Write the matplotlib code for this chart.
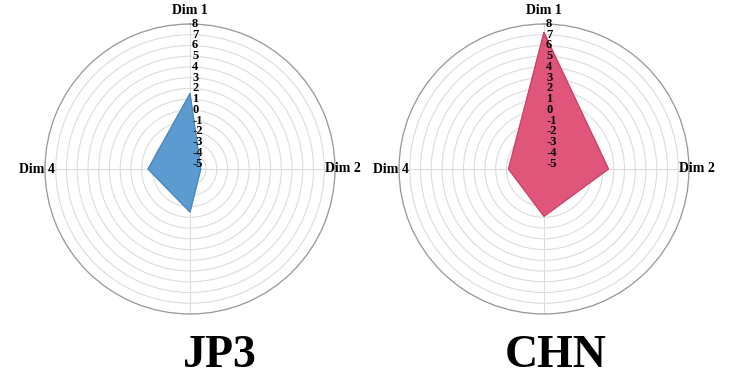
import numpy as np
import matplotlib
matplotlib.use("Agg")
import matplotlib.pyplot as plt

# --- data ---
dims = ["Dim 1", "Dim 2", "Dim 3", "Dim 4"]
shown_dims = ["Dim 1", "Dim 2", "", "Dim 4"]   # Dim 3 label is not visible in the picture
r_ticks = list(range(-5, 9))
jp3_values = [1.5, -4.5, -1.5, -1.6]
chn_values = [7.2, 0.5, -1.1, -2.2]
panel_titles = ["JP3", "CHN"]
panel_colors = ["#5b9bd0", "#e0557a"]
edge_colors = ["#4a86bb", "#c94466"]

serif = ["Liberation Serif", "DejaVu Serif"]
plt.rcParams["font.family"] = serif

fig = plt.figure(figsize=(7.3, 3.82), dpi=100)

W, H = 730, 382
r_min, r_max = -5.5, 8


def radar(ax, values, color, edge):
    theta = np.linspace(0, 2 * np.pi, len(dims), endpoint=False)
    ax.set_theta_offset(np.pi / 2)
    ax.set_theta_direction(-1)
    ax.set_ylim(r_min, r_max)

    # grid
    ax.set_yticks(r_ticks)
    ax.set_yticklabels([])
    ax.set_xticks(theta)
    ax.set_xticklabels([])
    ax.grid(True, color="#dcdcdc", linewidth=0.8)
    ax.spines["polar"].set_color("#999999")
    ax.spines["polar"].set_linewidth(0.9)
    ax.tick_params(length=0)

    closed_t = np.append(theta, theta[0])
    closed_v = np.append(values, values[0])
    ax.fill(closed_t, closed_v, color=color, alpha=1.0, zorder=3)
    ax.plot(closed_t, closed_v, color=edge, linewidth=0.8, zorder=3)

    # radial labels along the top spoke
    for v in r_ticks:
        ax.text(0, v, str(v), ha="left", va="center", fontsize=9,
                fontweight="bold", zorder=5,
                transform=ax.transData + matplotlib.transforms.ScaledTranslation(
                    1.5 / 72, 0, fig.dpi_scale_trans))

    # dimension labels
    for t, lab in zip(theta, shown_dims):
        if lab:
            r_lab = 9.25 if lab == "Dim 1" else 8.72
            ax.text(t, r_lab, lab, ha="center", va="center", fontsize=10,
                    fontweight="bold", clip_on=False, zorder=5)


centers = [(190, 169), (544, 169)]
radius = 145
values_all = [jp3_values, chn_values]
for i, (cx, cy) in enumerate(centers):
    ax = fig.add_axes([(cx - radius) / W, (H - cy - radius) / H,
                       2 * radius / W, 2 * radius / H], projection="polar")
    radar(ax, values_all[i], panel_colors[i], edge_colors[i])

title_x = [220, 556]
for tx, title in zip(title_x, panel_titles):
    fig.text(tx / W, (H - 367) / H, title, ha="center", va="baseline",
             fontsize=33, fontweight="bold")

fig.savefig("out.png", dpi=100)
